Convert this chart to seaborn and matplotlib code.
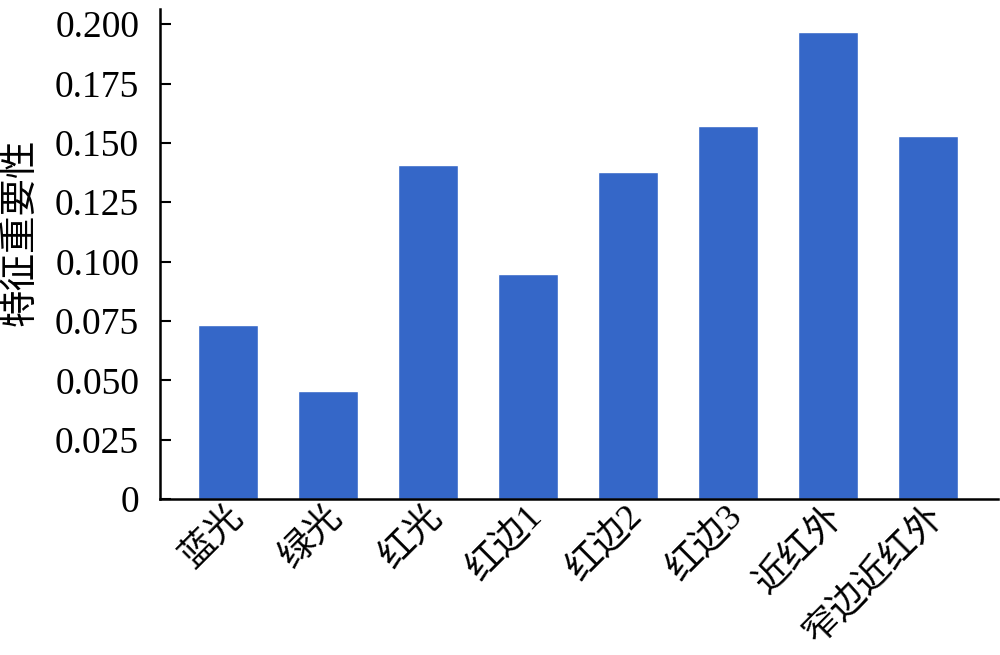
import matplotlib
matplotlib.use("Agg")
import matplotlib.pyplot as plt
import matplotlib.transforms as mtransforms
import seaborn as sns
import pandas as pd

bands = ["蓝光", "绿光", "红光", "红边1", "红边2", "红边3", "近红外", "窄边近红外"]
importance = [0.0733, 0.0455, 0.1406, 0.0947, 0.1377, 0.1572, 0.1965, 0.1528]
yticks = [0, 0.025, 0.05, 0.075, 0.1, 0.125, 0.15, 0.175, 0.2]
ytick_labels = ["0", "0.025", "0.050", "0.075", "0.100", "0.125", "0.150", "0.175", "0.200"]

sns.set_style("ticks")
plt.rcParams["font.family"] = ["Liberation Serif", "Noto Sans CJK SC"]

df = pd.DataFrame({"band": bands, "importance": importance})

fig = plt.figure(figsize=(10, 6.55), dpi=100)
ax = fig.add_axes([0.16, 0.238, 0.838, 0.748])
sns.barplot(data=df, x="band", y="importance", color="#3567c8", saturation=1,
            width=0.6, ax=ax)

ax.set_ylim(0, 0.2063)
ax.set_xlim(-0.68, 7.7)
ax.set_yticks(yticks)
ax.set_yticklabels(ytick_labels, fontsize=27, color="black")
ax.set_xticks(range(len(bands)))
ax.set_xticklabels(bands, fontsize=26, color="black", rotation=45,
                   ha="right", va="center", rotation_mode="anchor")
ax.set_xlabel("")
ax.set_ylabel("特征重要性", fontsize=27, color="black")
ax.yaxis.set_label_coords(-0.145, 0.545)
ax.tick_params(axis="y", direction="in", length=8, width=1.5, pad=15, color="black")
ax.tick_params(axis="x", direction="in", length=8, width=1.5, pad=9, color="black")
shift = mtransforms.ScaledTranslation(0.1, 0, fig.dpi_scale_trans)
for lab in ax.get_xticklabels():
    lab.set_transform(lab.get_transform() + shift)
for s in ["top", "right"]:
    ax.spines[s].set_visible(False)
for s in ["left", "bottom"]:
    ax.spines[s].set_linewidth(1.8)
    ax.spines[s].set_color("black")

fig.savefig("out.png", dpi=100)
